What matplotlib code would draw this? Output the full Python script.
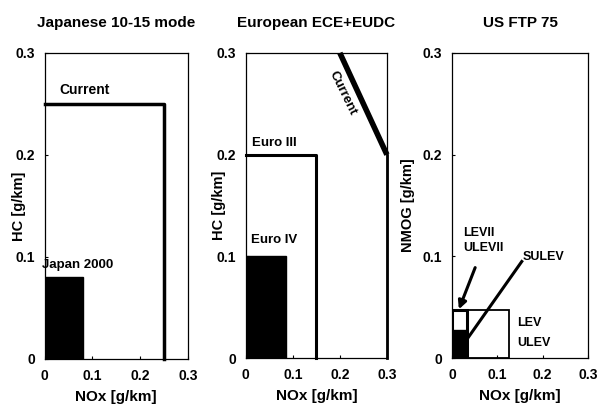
import matplotlib
matplotlib.use("Agg")
import matplotlib.pyplot as plt
import matplotlib.patches as patches

plt.rcParams['font.family'] = ['Liberation Sans', 'DejaVu Sans']
plt.rcParams['font.weight'] = 'bold'

# limity (NOx, HC) [g/km]
jp_current = (0.25, 0.25)
jp_2000 = (0.08, 0.08)

eu_iii = (0.15, 0.20)
eu_iv = (0.085, 0.10)
eu_current_nox = [0.20, 0.30, 0.30]
eu_current_hc = [0.30, 0.20, 0.0]

us_lev = (0.125, 0.047)
us_levii = (0.033, 0.047)
us_sulev = (0.033, 0.028)

ticks = [0, 0.1, 0.2, 0.3]
tick_labels = ["0", "0.1", "0.2", "0.3"]
titles = ["Japanese 10-15 mode", "European ECE+EUDC", "US FTP 75"]
ylabels = ["HC [g/km]", "HC [g/km]", "NMOG [g/km]"]

fig = plt.figure(figsize=(5.98, 4.07), dpi=100)
pozycje = [
    [0.075, 0.118, 0.239, 0.752],
    [0.411, 0.120, 0.236, 0.750],
    [0.756, 0.120, 0.227, 0.750],
]
ylab_x = [-0.133, -0.142, -0.272]
axes = []
for k, poz in enumerate(pozycje):
    ax = fig.add_axes(poz)
    ax.set_xlim(0, 0.3)
    ax.set_ylim(0, 0.3)
    ax.set_xticks(ticks)
    ax.set_xticklabels(tick_labels)
    ax.set_yticks(ticks)
    ax.set_yticklabels(tick_labels)
    ax.tick_params(direction='in', length=2, width=0.8, labelsize=10, pad=7)
    for s in ax.spines.values():
        s.set_linewidth(0.9)
    ax.set_title(titles[k], fontsize=11, fontweight='bold', pad=19)
    ax.set_xlabel("NOx [g/km]", fontsize=11, fontweight='bold')
    ax.xaxis.set_label_coords(0.5, -0.10)
    ax.set_ylabel(ylabels[k], fontsize=10.5, fontweight='bold')
    ax.yaxis.set_label_coords(ylab_x[k], 0.5)
    axes.append(ax)

# Japonia
ax = axes[0]
ax.plot([0, jp_current[0], jp_current[0]], [jp_current[1], jp_current[1], 0],
        color='black', lw=2.5, clip_on=False)
ax.add_patch(patches.Rectangle((0, 0), jp_2000[0], jp_2000[1], facecolor='black', edgecolor='black'))
ax.text(0.031, 0.264, "Current", fontsize=10, fontweight='bold', va='center')
ax.text(-0.006, 0.092, "Japan 2000", fontsize=9.5, fontweight='bold', va='center')

# Europa
ax = axes[1]
ax.plot([0, eu_iii[0], eu_iii[0]], [eu_iii[1], eu_iii[1], 0], color='black', lw=2.2, clip_on=False)
ax.add_patch(patches.Rectangle((0, 0), eu_iv[0], eu_iv[1], facecolor='black', edgecolor='black'))
ax.plot(eu_current_nox[:2], eu_current_hc[:2], color='black', lw=4, solid_capstyle='butt', clip_on=False)
ax.plot(eu_current_nox[1:], eu_current_hc[1:], color='black', lw=2, clip_on=False)
ax.text(0.013, 0.211, "Euro III", fontsize=9.5, fontweight='bold', va='center')
ax.text(0.011, 0.116, "Euro IV", fontsize=9.5, fontweight='bold', va='center')
ax.text(0.207, 0.260, "Current", fontsize=9.5, fontweight='bold', rotation=-64,
        ha='center', va='center', rotation_mode='anchor')

# USA
ax = axes[2]
ax.add_patch(patches.Rectangle((0, 0), us_lev[0], us_lev[1], facecolor='none', edgecolor='black', lw=1.3))
ax.add_patch(patches.Rectangle((0, 0), us_sulev[0], us_sulev[1], facecolor='black', edgecolor='black'))
ax.add_patch(patches.Rectangle((0, 0), us_levii[0], us_levii[1], facecolor='none', edgecolor='black', lw=2.2))
ax.text(0.024, 0.123, "LEVII", fontsize=9, fontweight='bold', va='center')
ax.text(0.024, 0.108, "ULEVII", fontsize=9, fontweight='bold', va='center')
ax.annotate("", xy=(0.015, 0.048), xytext=(0.051, 0.089),
            arrowprops=dict(arrowstyle='-|>', color='black', lw=2.2, mutation_scale=12, shrinkA=0, shrinkB=0))
ax.plot([0.154, 0.032], [0.095, 0.018], color='black', lw=2.2)
ax.text(0.157, 0.099, "SULEV", fontsize=9, fontweight='bold', va='center')
ax.text(0.143, 0.035, "LEV", fontsize=9, fontweight='bold', va='center')
ax.text(0.143, 0.015, "ULEV", fontsize=9, fontweight='bold', va='center')

fig.savefig("out.png", dpi=100)
